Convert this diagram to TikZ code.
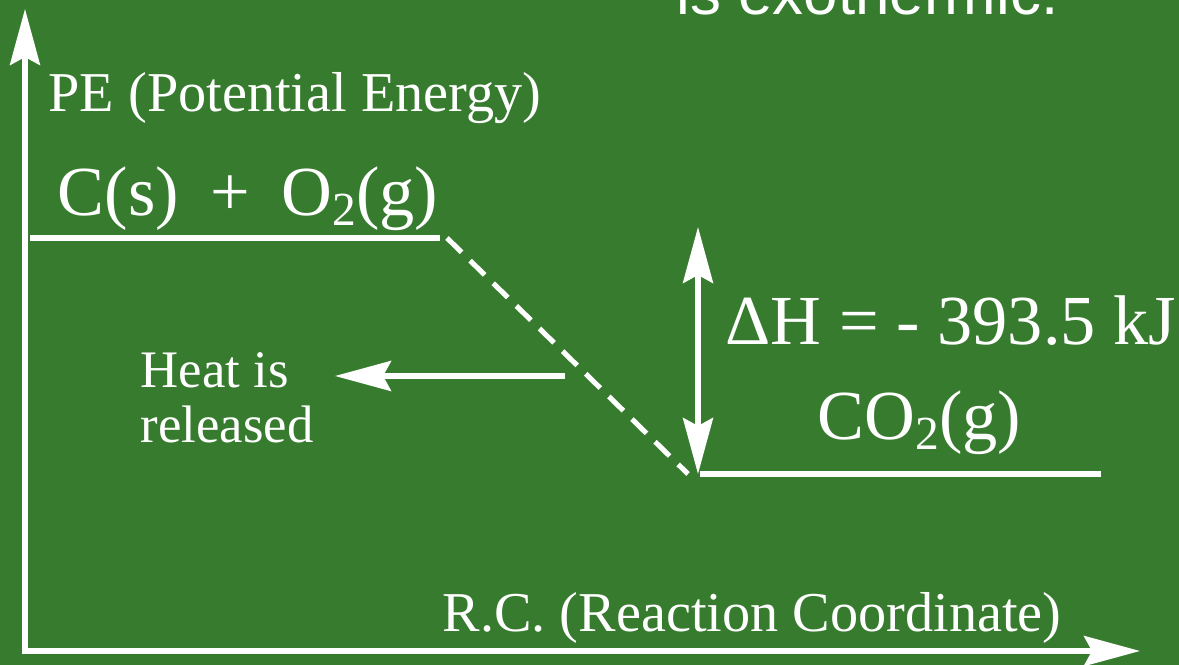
\documentclass[tikz,border=0pt]{standalone}
\usepackage{fontspec}
\setmainfont{Liberation Serif}
\newfontfamily\headfont{Liberation Sans}
\usetikzlibrary{arrows.meta}
\definecolor{board}{RGB}{55,123,47}
\newcommand{\chemsub}[1]{\raisebox{-0.14em}{\fontsize{13.5}{14}\selectfont #1}}

\begin{document}
\begin{tikzpicture}[x=0.01cm, y=-0.01cm,
    line/.style={draw=white, line width=1.45pt},
    tip/.style={-{Stealth[length=5.6mm, width=3mm, inset=0.8mm]}},
    dtip/.style={{Stealth[length=5.6mm, width=3mm, inset=0.8mm]}-{Stealth[length=5.6mm, width=3mm, inset=0.8mm]}},
    lab/.style={text=white, inner sep=0pt, anchor=base west},
    big/.style={lab, font=\fontsize{20}{24}\selectfont},
    small/.style={lab, font=\fontsize{16}{19}\selectfont}]

% --- board
\fill[board] (0,0) rectangle (1179,665);
\useasboundingbox (0,0) rectangle (1179,665);
\clip (0,0) rectangle (1179,665);

% --- axes
\coordinate (origin) at (25,651);
\coordinate (ytip) at (25,9);
\coordinate (xtip) at (1140,651);
\draw[line, dtip] (ytip) -- (origin) -- (xtip);
\node[small] (pe) at (48,112) {PE (Potential Energy)};
\node[small] (rc) at (442,632) {R.C. (Reaction Coordinate)};

% --- energy levels
\coordinate (reacL) at (30,238);
\coordinate (reacR) at (440,238);
\coordinate (prodL) at (700,474);
\coordinate (prodR) at (1101,474);
\coordinate (dashA) at (447,238);
\coordinate (dashB) at (688,474);
\draw[line] (reacL) -- (reacR);
\draw[line] (prodL) -- (prodR);
\draw[line, dash pattern=on 5.8pt off 3.4pt] (dashA) -- (dashB);
\node[big] (reac) at (57,216) {C(s)\hspace{0.45em}+\hspace{0.45em}O\chemsub{2}(g)};
\node[big] (prod) at (817,440) {CO\chemsub{2}(g)};

% --- enthalpy change
\coordinate (dhtop) at (698,227);
\coordinate (dhbot) at (698,474);
\draw[line, dtip] (dhtop) -- (dhbot);
\node[big] (dh) at (725,345) {ΔH = - 393.5 kJ};

% --- heat
\coordinate (heatstart) at (565,376);
\coordinate (heattip) at (335,376);
\draw[line, tip] (heatstart) -- (heattip);
\node[lab, anchor=north west, align=left, font=\fontsize{15}{15.6}\selectfont] (heat) at (140,352) {Heat is\\released};

% --- title, cut at the top
\node[lab, font=\headfont\fontsize{17.6}{20}\selectfont] (exo) at (676,15) {is exothermic.};
\end{tikzpicture}
\end{document}
